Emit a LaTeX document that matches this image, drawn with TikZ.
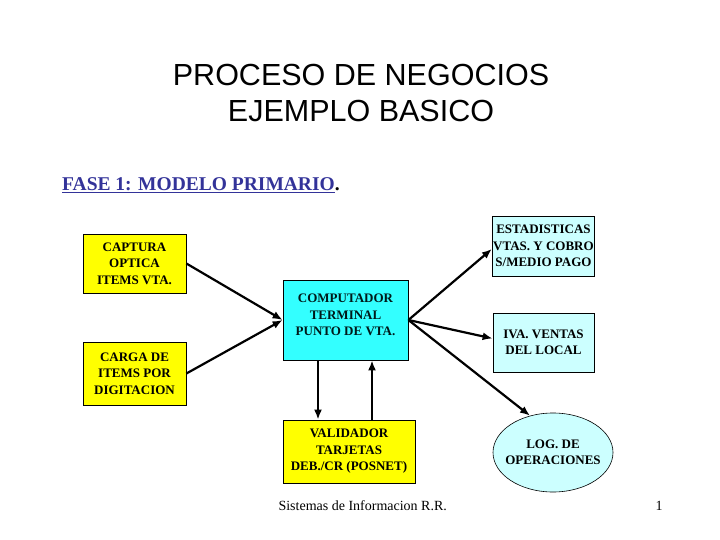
\documentclass[tikz,border=0pt]{standalone}
\usepackage{fontspec}
\setmainfont{Liberation Serif}
\newfontfamily\titlefont{Liberation Sans}
\usetikzlibrary{positioning, shapes.geometric, arrows.meta, calc}

\definecolor{boxyellow}{HTML}{FFFF00}
\definecolor{boxcyan}{HTML}{33FFFF}
\definecolor{boxpale}{HTML}{CCFFFF}
\definecolor{faseblue}{HTML}{333399}

\begin{document}
\begin{tikzpicture}[
                x=1pt, y=-1pt,
                flow/.style={-{Latex[length=10pt,width=8pt]}, line width=2.2pt},
                inbox/.style={rectangle, draw=black, line width=0.8pt, align=center, inner sep=1pt,
                    font=\bfseries\fontsize{13}{16.5}\selectfont},
                outbox/.style={inbox, fill=boxpale},
                label_text/.style={font=\fontsize{14}{16}\selectfont, anchor=base west}
            ]
                \useasboundingbox (0,0) rectangle (720,540);

                % Title
                \node[font=\titlefont\fontsize{30.5}{36}\selectfont, align=center, anchor=base] (title) at (361,122)
                    {PROCESO DE NEGOCIOS\\EJEMPLO BASICO};
                \node[anchor=base west, font=\bfseries\fontsize{19.5}{22}\selectfont, inner sep=0pt] (fase) at (62,191)
                    {\textcolor{faseblue}{\underline{FASE 1: MODELO PRIMARIO}}.};

                % Inputs (left)
                \node[inbox, fill=boxyellow, minimum width=103, minimum height=59] (captura) at (134.5,263.5)
                    {CAPTURA\\OPTICA\\ITEMS VTA.};
                \node[inbox, fill=boxyellow, minimum width=103, minimum height=63] (carga) at (134.5,373.5)
                    {CARGA DE\\ITEMS POR\\DIGITACION};

                % Terminal and validator
                \node[inbox, fill=boxcyan, text=black!80!teal, minimum width=125, minimum height=80] (comp) at (345.5,320)
                    {COMPUTADOR\\TERMINAL\\PUNTO DE VTA.\\[-6pt]};
                \node[inbox, fill=boxyellow, minimum width=132, minimum height=63] (valid) at (349,451.5)
                    {VALIDADOR\\TARJETAS\\DEB./CR (POSNET)};

                % Outputs (right)
                \node[outbox, minimum width=101, minimum height=60] (estad) at (543.5,246)
                    {ESTADISTICAS\\VTAS. Y COBRO\\S/MEDIO PAGO};
                \node[outbox, minimum width=101, minimum height=59] (iva) at (543.5,342.5)
                    {IVA. VENTAS\\DEL LOCAL};
                \node[ellipse, draw=black, line width=0.6pt, fill=boxpale, minimum width=120, minimum height=79,
                    inner sep=0pt, align=center, font=\bfseries\fontsize{13}{16.5}\selectfont] (log) at (553,452.5)
                    {\makebox[0pt]{LOG. DE}\\\makebox[0pt]{OPERACIONES}};

                % Connections
                \draw[flow] (captura.east) -- (comp.west);
                \draw[flow] (carga.east) -- (comp.west);
                \draw[flow] ([xshift=-27.5pt]comp.south) -- ([xshift=-31pt]valid.north);
                \draw[flow] ([xshift=23pt]valid.north) -- ([xshift=26.5pt]comp.south);
                \draw[flow] (comp.east) -- ([yshift=-3pt]estad.west);
                \draw[flow] (comp.east) -- ([yshift=4pt]iva.west);
                \draw[flow] (comp.east) -- (log.122);

                % Footer
                \node[label_text] (footer) at (275,510) {Sistemas de Informacion R.R.};
                \node[label_text] (pagenum) at (652,510) {1};

            \end{tikzpicture}
\end{document}
